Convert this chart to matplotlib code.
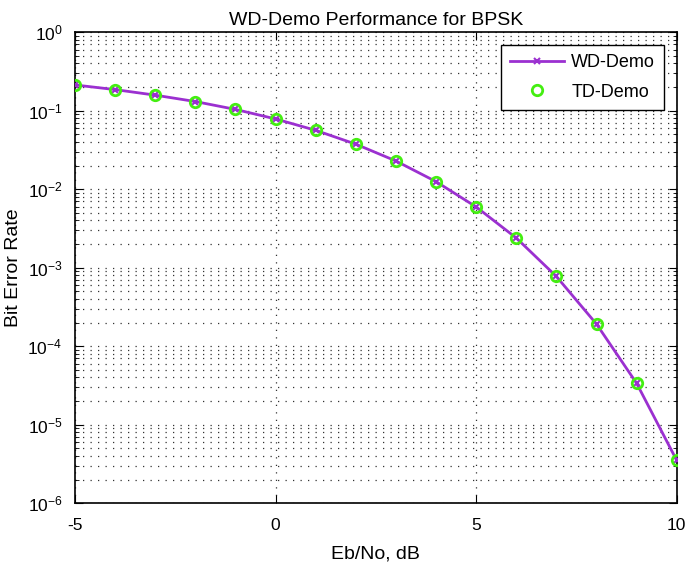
import matplotlib
matplotlib.use("Agg")
import matplotlib.pyplot as plt
from matplotlib.ticker import LogLocator, NullFormatter

ebno = [-5, -4, -3, -2, -1, 0, 1, 2, 3, 4, 5, 6, 7, 8, 9, 10]
ber_wd = [0.213, 0.186, 0.158, 0.131, 0.104, 0.0786, 0.0563, 0.0375, 0.0229, 0.0125,
          0.00595, 0.00239, 0.000773, 0.000191, 3.36e-5, 3.5e-6]
ber_td = [0.213, 0.186, 0.158, 0.131, 0.104, 0.0786, 0.0563, 0.0375, 0.0229, 0.0125,
          0.00595, 0.00239, 0.000773, 0.000191, 3.36e-5, 3.5e-6]
xticks = [-5, 0, 5, 10]

plt.rcParams['font.family'] = ['Liberation Sans', 'DejaVu Sans']
fig = plt.figure(figsize=(6.85, 5.66), dpi=100)
ax = fig.add_axes([0.1095, 0.111, 0.8785, 0.832])

ax.semilogy(ebno, ber_wd, color='#9b30d0', lw=2, marker='x', ms=5, mew=1.5,
            mec='#9b30d0', label='WD-Demo', zorder=3)
ax.semilogy(ebno, ber_td, ls='none', marker='o', ms=7.5, mfc='none', mec='#44ee11',
            mew=2, label='TD-Demo', zorder=4)

ax.set_xlim(-5, 10)
ax.set_ylim(1e-6, 1)
ax.set_xticks(xticks)
ax.set_xticklabels([str(t) for t in xticks])
ax.yaxis.set_major_locator(LogLocator(base=10, numticks=10))
ax.yaxis.set_minor_locator(LogLocator(base=10, subs=range(2, 10), numticks=20))
ax.yaxis.set_minor_formatter(NullFormatter())

ax.grid(True, which='major', axis='both', ls=(0, (1, 5)), color='#333333', lw=0.9)
ax.grid(True, which='minor', axis='y', ls=(0, (1, 5)), color='#333333', lw=0.9)

ax.tick_params(which='both', direction='in', top=True, right=True, labelsize=12.5)
ax.tick_params(axis='x', which='major', pad=11)
ax.tick_params(axis='y', which='major', pad=9)
ax.tick_params(which='major', length=6)
ax.tick_params(which='minor', length=3)
for s in ax.spines.values():
    s.set_linewidth(1.2)

ax.set_xlabel('Eb/No, dB', fontsize=14, labelpad=9)
ax.set_ylabel('Bit Error Rate', fontsize=14, labelpad=4)
ax.set_title('WD-Demo Performance for BPSK', fontsize=14, pad=5)

leg = ax.legend(loc='upper right', fontsize=13, fancybox=False, framealpha=1,
                edgecolor='black', borderaxespad=0.7, handlelength=3.0,
                handletextpad=0.4, labelspacing=0.7, borderpad=0.5)
leg.get_frame().set_linewidth(1.0)

fig.savefig('out.png', dpi=100)
